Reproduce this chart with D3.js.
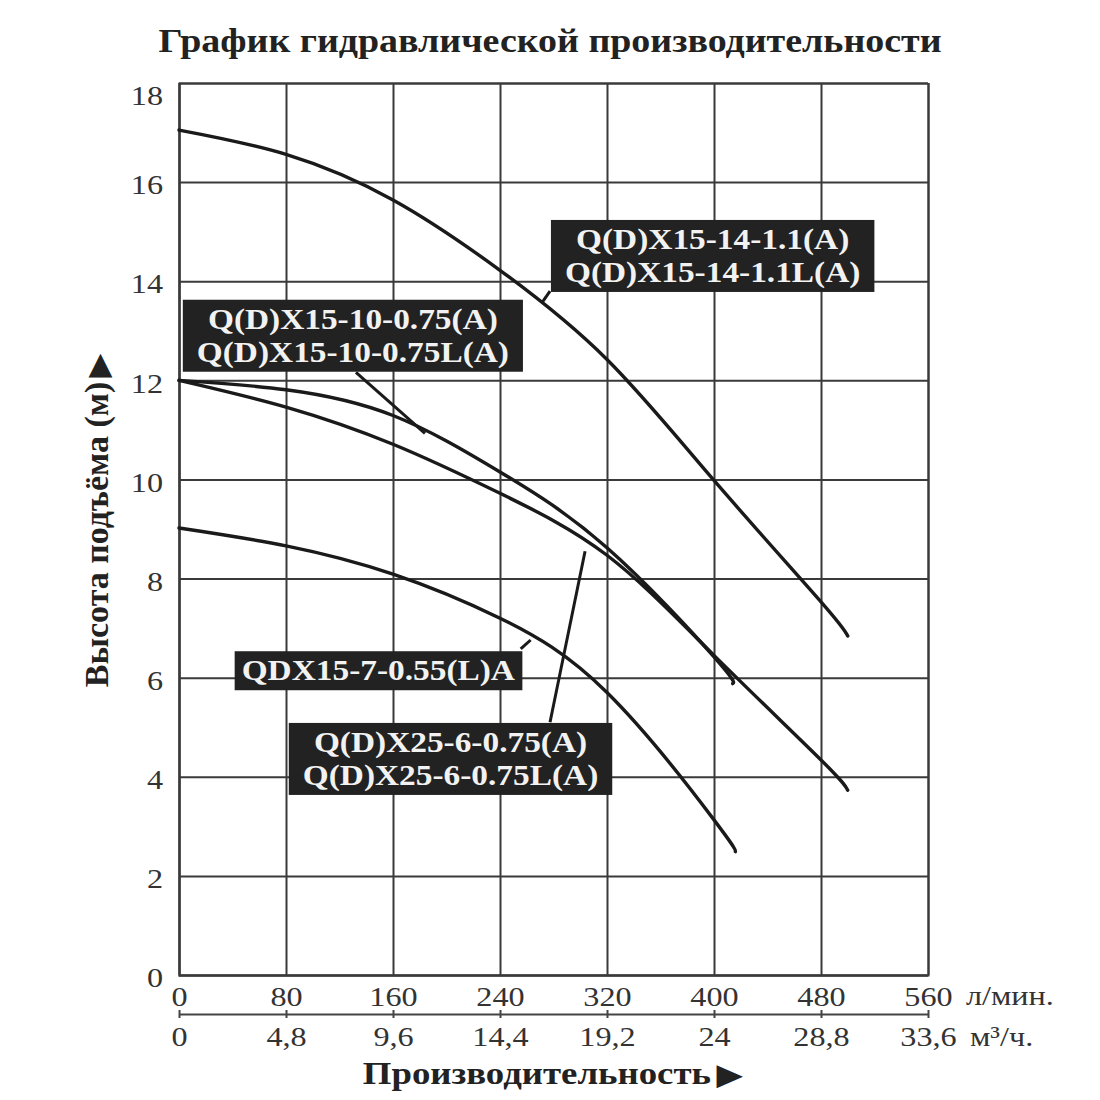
<!DOCTYPE html>
<html>
<head>
<meta charset="utf-8">
<script src="https://cdn.jsdelivr.net/npm/d3@7"></script>
<style>
  body { margin: 0; background: #fff; }
  svg { display: block; }
</style>
</head>
<body>
<div id="chart"></div>
<script>
// axis ticks
const flowTicks = [0, 80, 160, 240, 320, 400, 480, 560];          // л/мин.
const volumeTicks = [0, 4.8, 9.6, 14.4, 19.2, 24, 28.8, 33.6];    // м³/ч.
const headTicks = [0, 2, 4, 6, 8, 10, 12, 14, 16, 18];             // м

// pump curves (flow in л/мин., head in м)
const flow14 = [0, 80, 160, 240, 320, 400, 480, 500];
const head14 = [17.05, 16.56, 15.64, 14.22, 12.42, 9.98, 7.53, 6.84];

const flow10 = [0, 80, 160, 240, 320, 400, 414];
const head10 = [12, 11.81, 11.29, 10.15, 8.62, 6.42, 5.88];

const flow6 = [0, 80, 160, 240, 320, 400, 480, 500];
const head6 = [12, 11.46, 10.71, 9.72, 8.47, 6.45, 4.34, 3.73];

const flow7 = [0, 80, 160, 240, 320, 400, 416];
const head7 = [9.02, 8.66, 8.09, 7.2, 5.7, 3.13, 2.49];

const curveFlows = [flow14, flow10, flow6, flow7];
const curveHeads = [head14, head10, head6, head7];

// model names for each curve
const modelNames = [
    ["Q(D)X15-14-1.1(A)", "Q(D)X15-14-1.1L(A)"],
    ["Q(D)X15-10-0.75(A)", "Q(D)X15-10-0.75L(A)"],
    ["Q(D)X25-6-0.75(A)", "Q(D)X25-6-0.75L(A)"],
    ["QDX15-7-0.55(L)A"]
];

// ---- layout ----
const W = 1100, H = 1100;
const SX = 1.15;              // glyphs in the picture are a bit wide
const serif = "'Liberation Serif', 'Times New Roman', serif";

const x = d3.scaleLinear().domain([0, 560]).range([179, 928]);
const xv = d3.scaleLinear().domain([0, 33.6]).range([179, 928]);
const y = d3.scaleLinear().domain([0, 18]).range([975, 83]);
const plotW = x(560) - x(0);
const plotH = y(0) - y(18);

const svg = d3.select("#chart").append("svg")
    .attr("width", W)
    .attr("height", H);

// stretched text helper
function stext(g, px, py, str) {
    return g.append("text")
        .attr("transform", `translate(${px},${py}) scale(${SX},1)`)
        .text(str);
}

// grid
svg.append("g")
    .attr("transform", `translate(0,${y(0)})`)
    .call(d3.axisBottom(x).tickValues(flowTicks).tickSize(-plotH).tickFormat(""))
    .call(g => g.selectAll("line, path").attr("stroke", "#3a3a3a").attr("stroke-width", 2));

svg.append("g")
    .attr("transform", `translate(${x(0)},0)`)
    .call(d3.axisLeft(y).tickValues(headTicks).tickSize(-plotW).tickFormat(""))
    .call(g => g.selectAll("line, path").attr("stroke", "#3a3a3a").attr("stroke-width", 2));

// y tick labels
svg.append("g")
    .attr("transform", `translate(${x(0)},0)`)
    .call(d3.axisLeft(y).tickValues(headTicks).tickSize(0).tickPadding(16))
    .call(g => g.select(".domain").remove())
    .call(g => g.selectAll("text")
        .attr("x", -16 / SX)
        .attr("dy", d => d === 18 ? "0.75em" : "0.42em")
        .attr("transform", `scale(${SX},1)`)
        .style("font-family", serif)
        .style("font-size", "28px")
        .style("fill", "#333"));

// x tick labels, л/мин.
svg.append("g")
    .attr("transform", `translate(0,${y(0)})`)
    .call(d3.axisBottom(x).tickValues(flowTicks).tickSize(0).tickPadding(11))
    .call(g => g.select(".domain").remove())
    .call(g => g.selectAll("text")
        .attr("transform", `scale(${SX},1)`)
        .style("font-family", serif)
        .style("font-size", "28px")
        .style("fill", "#333"));

// second axis, м³/ч.
svg.append("g")
    .attr("transform", "translate(0,1014)")
    .call(d3.axisBottom(xv).tickValues(volumeTicks).tickSizeInner(4).tickSizeOuter(0).tickPadding(8)
        .tickFormat(d => String(d).replace(".", ",")))
    .call(g => g.select(".domain").attr("stroke", "#444").attr("stroke-width", 2))
    .call(g => g.selectAll(".tick line").attr("y1", -4).attr("stroke", "#444").attr("stroke-width", 2))
    .call(g => g.selectAll("text")
        .attr("transform", `scale(${SX},1)`)
        .style("font-family", serif)
        .style("font-size", "28px")
        .style("fill", "#333"));

// units
const units = svg.append("g")
    .style("font-family", serif)
    .style("font-size", "28px")
    .style("fill", "#333");
stext(units, 966, 1005, "л/мин.");
stext(units, 970, 1046, "м³/ч.");

// curves
const line = d3.line()
    .x(d => x(d[0]))
    .y(d => y(d[1]))
    .curve(d3.curveNatural);

svg.append("g")
    .selectAll("path")
    .data(curveFlows.map((f, i) => f.map((q, j) => [q, curveHeads[i][j]])))
    .join("path")
    .attr("d", line)
    .attr("fill", "none")
    .attr("stroke", "#1a1a1a")
    .attr("stroke-width", 3.4)
    .attr("stroke-linecap", "round");

// label boxes: centre (flow, head), and pointer from curve to box edge
const labelAt = [[399, 14.51], [130, 12.9], [203, 4.36], [149, 6.14]];
const labelPad = [14, 14, 14, 7];
const pointerFrom = [[271.4, 13.57], [183.9, 10.93], [303.6, 8.55], [262.9, 6.76]];
const pointerTo = [[277.4, 13.8], [132.3, 12.16], [277.4, 5.1], [255.5, 6.58]];

svg.append("g")
    .selectAll("line")
    .data(pointerFrom)
    .join("line")
    .attr("x1", d => x(d[0]))
    .attr("y1", d => y(d[1]))
    .attr("x2", (d, i) => x(pointerTo[i][0]))
    .attr("y2", (d, i) => y(pointerTo[i][1]))
    .attr("stroke", "#1a1a1a")
    .attr("stroke-width", 3);

modelNames.forEach((lines, i) => {
    const cx = x(labelAt[i][0]);
    const cy = y(labelAt[i][1]);
    const g = svg.append("g")
        .style("font-family", serif)
        .style("font-weight", "bold")
        .style("font-size", "29px")
        .style("fill", "#f2f2f2")
        .attr("text-anchor", "middle");
    const lh = 33;
    const top = cy - lines.length * lh / 2;
    lines.forEach((s, k) => stext(g, cx, top + lh * k + 26, s));
    const b = g.node().getBBox();
    const pad = labelPad[i];
    g.insert("rect", "text")
        .attr("x", b.x - pad)
        .attr("y", top - 3)
        .attr("width", b.width + pad * 2)
        .attr("height", lines.length * lh + 6)
        .attr("fill", "#222");
});

// titles
const titles = svg.append("g")
    .style("font-family", serif)
    .style("font-weight", "bold")
    .style("fill", "#222")
    .attr("text-anchor", "middle");

stext(titles, 550, 52, "График гидравлической производительности")
    .style("font-size", "33px");

const xTitle = stext(titles, 552, 1084, "Производительность")
    .style("font-size", "32px");
xTitle.append("tspan").attr("dx", 5).style("font-size", "28px").text("▶");

const yTitle = titles.append("text")
    .attr("transform", "translate(108,521) rotate(-90)")
    .style("font-size", "34px")
    .text("Высота подъёма (м)");
yTitle.append("tspan").attr("dx", 5).style("font-size", "29px").text("▶");
</script>
</body>
</html>
